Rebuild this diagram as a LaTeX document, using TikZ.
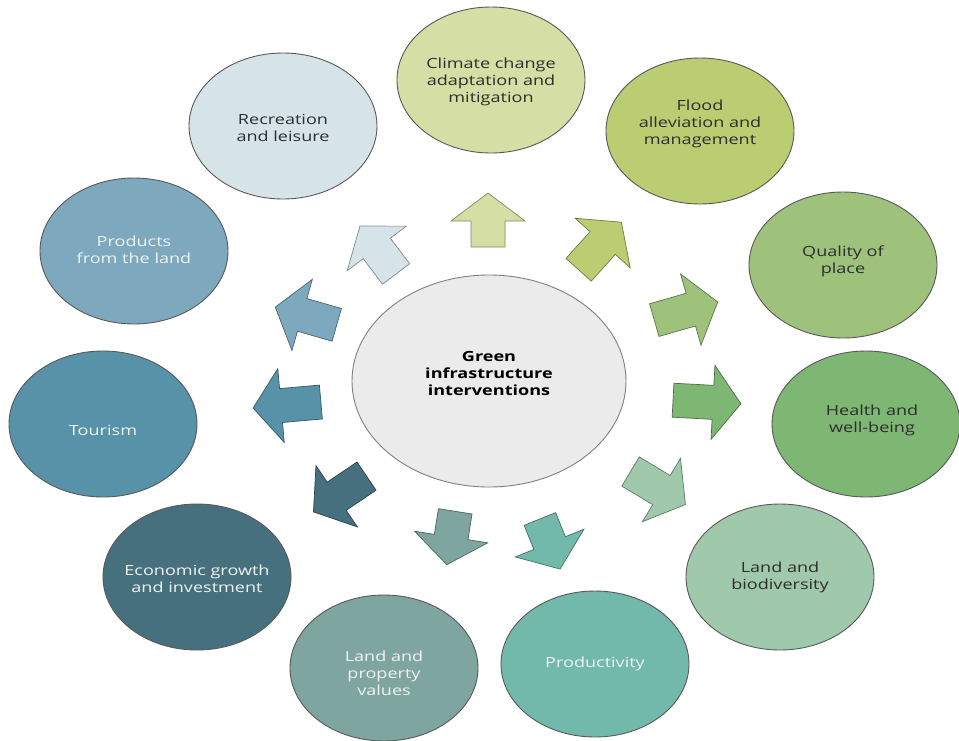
\documentclass[tikz,border=0pt]{standalone}
\usepackage{fontspec}
\setmainfont{Open Sans}[FakeStretch=1.29]
\usetikzlibrary{shapes.geometric}

% fills of the hub and the eleven outcome bubbles
\definecolor{cHub}{HTML}{EBEBEB}
\definecolor{cClimate}{HTML}{D5DFA5}
\definecolor{cFlood}{HTML}{BACD72}
\definecolor{cQuality}{HTML}{9EC27B}
\definecolor{cHealth}{HTML}{7EB673}
\definecolor{cBio}{HTML}{A0C8AB}
\definecolor{cProd}{HTML}{73B9AB}
\definecolor{cProp}{HTML}{7FA5A0}
\definecolor{cEcon}{HTML}{47707F}
\definecolor{cTour}{HTML}{5792A8}
\definecolor{cLand}{HTML}{7DA8BE}
\definecolor{cRec}{HTML}{D6E4EA}
\definecolor{darktext}{HTML}{2E2E2E}
\definecolor{lighttext}{HTML}{EEF4F2}

\tikzset{
  bubble/.style={ellipse, draw=black!65, line width=0.9pt,
    minimum width=188pt, minimum height=146pt, inner sep=0pt},
  hub/.style={ellipse, draw=black!50, fill=cHub, line width=0.9pt,
    minimum width=274pt, minimum height=212pt, inner sep=0pt},
  caption/.style={align=center, inner sep=0pt,
    font=\fontsize{14}{17}\selectfont},
  darkcap/.style={caption, text=darktext},
  lightcap/.style={caption, text=lighttext},
}

% block arrow: centre, direction, length, colour
\newcommand\blockarrow[4]{%
  \begin{scope}[shift={(#1)}, rotate=#2]
    \filldraw[fill=#4, draw=#4!60!black, line width=0.7pt, line join=miter]
      (-#3/2,-17) -- (#3/2-28,-17) -- (#3/2-28,-37) -- (#3/2,0)
      -- (#3/2-28,37) -- (#3/2-28,17) -- (-#3/2,17) -- cycle;
  \end{scope}}

\begin{document}
\begin{tikzpicture}[x=1pt,y=-1pt]
  \fill[white] (0,0) rectangle (959,740);
  \useasboundingbox (0,0) rectangle (959,740);

  % hub
  \node[hub] (hub) at (489,381) {};
  \node[caption, font=\fontsize{14}{17}\selectfont\bfseries, text=black]
    (hub-t) at (489,373) {Green\\infrastructure\\interventions};

  % outcome bubbles
  \node[bubble, fill=cClimate] (climate) at (491,80) {};
  \node[darkcap] (climate-t) at (491,82) {Climate change\\adaptation and\\mitigation};

  \node[bubble, fill=cFlood] (flood) at (700,131) {};
  \node[darkcap] (flood-t) at (700,124) {Flood\\alleviation and\\management};

  \node[bubble, fill=cQuality] (quality) at (843,265) {};
  \node[darkcap] (quality-t) at (843,261) {Quality of\\place};

  \node[bubble, fill=cHealth] (health) at (866,424) {};
  \node[darkcap] (health-t) at (872,420) {Health and\\well-being};

  \node[bubble, fill=cBio] (bio) at (780,577) {};
  \node[darkcap] (bio-t) at (780,577) {Land and\\biodiversity};

  \node[bubble, fill=cProd] (prod) at (595,664) {};
  \node[lightcap] (prod-t) at (595,664) {Productivity};

  \node[bubble, fill=cProp] (prop) at (384,668) {};
  \node[lightcap] (prop-t) at (384,673) {Land and\\property\\values};

  \node[bubble, fill=cEcon] (econ) at (197,577) {};
  \node[lightcap] (econ-t) at (197,579) {Economic growth\\and investment};

  \node[bubble, fill=cTour] (tour) at (103,424) {};
  \node[lightcap] (tour-t) at (103,430) {Tourism};

  \node[bubble, fill=cLand] (land) at (134,251) {};
  \node[lightcap] (land-t) at (134,250) {Products\\from the land};

  \node[bubble, fill=cRec] (rec) at (283,126) {};
  \node[darkcap] (rec-t) at (283,128) {Recreation\\and leisure};

  % outward arrows
  \blockarrow{488,220}{90}{54}{cClimate}
  \blockarrow{600,246}{48}{64}{cFlood}
  \blockarrow{686,311}{16}{66}{cQuality}
  \blockarrow{707,402}{-3}{68}{cHealth}
  \blockarrow{658,488}{-31}{64}{cBio}
  \blockarrow{550,544}{-68}{54}{cProd}
  \blockarrow{451,538}{-99}{54}{cProp}
  \blockarrow{340,494}{214}{64}{cEcon}
  \blockarrow{287,405}{185}{68}{cTour}
  \blockarrow{306,316}{164}{64}{cLand}
  \blockarrow{378,250}{127}{60}{cRec}
\end{tikzpicture}
\end{document}
